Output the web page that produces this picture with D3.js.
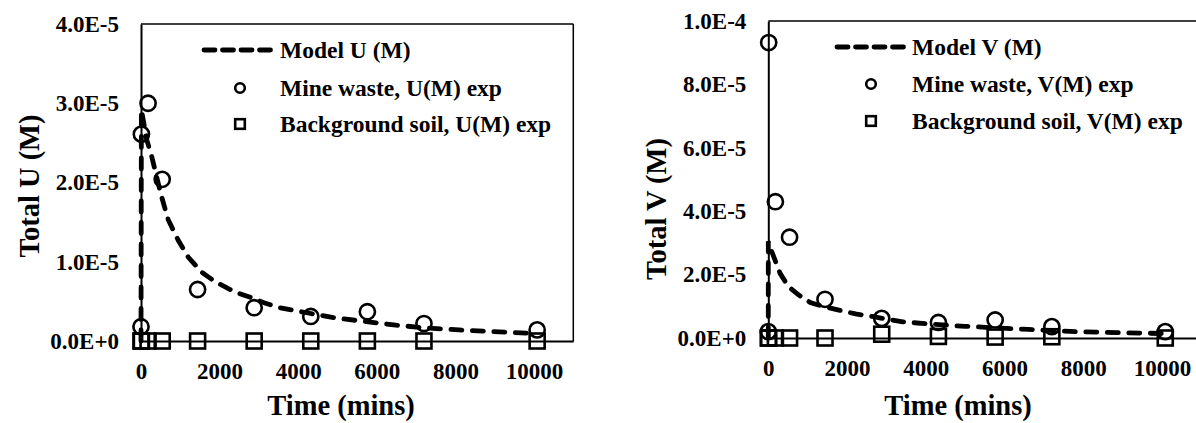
<!DOCTYPE html>
<html>
<head>
<meta charset="utf-8">
<script src="https://cdn.jsdelivr.net/npm/d3@7"></script>
<style>
	body { margin: 0; background: #fff; }
	svg { display: block; font-family: "Liberation Serif", "Times New Roman", serif; font-weight: bold; }
</style>
</head>
<body>
<svg id="chart" width="1196" height="423"></svg>
<script>
'use strict'

// sample times (mins) of the experiments
var sampleTimes = [0, 10, 180, 540, 1440, 2880, 4320, 5760, 7200, 10080];

var mineU = [0.18e-5, 2.61e-5, 3.0e-5, 2.04e-5, 0.65e-5, 0.42e-5, 0.31e-5, 0.37e-5, 0.22e-5, 0.14e-5];
var soilU = [0, 0, 0, 0, 0, 0, 0, 0, 0, 0];

var mineV = [0.2e-5, 9.32e-5, 4.3e-5, 3.18e-5, 1.22e-5, 0.62e-5, 0.49e-5, 0.57e-5, 0.36e-5, 0.2e-5];
var soilV = [0, 0, 0, 0, 0, 0.12e-5, 0.05e-5, 0.03e-5, 0.04e-5, 0];

// model curves
var modelUTime = [0, 10, 145, 272, 398, 525, 693, 947, 1200, 1541, 1878, 2386, 2843, 3147, 3528, 4289, 4967, 5728, 6490, 7251, 8096, 8942, 9957];
var modelU = [0, 2.92e-5, 2.54e-5, 2.33e-5, 2.07e-5, 1.82e-5, 1.53e-5, 1.27e-5, 1.06e-5, 0.87e-5, 0.75e-5, 0.62e-5, 0.54e-5, 0.48e-5, 0.42e-5, 0.35e-5, 0.29e-5, 0.245e-5, 0.2e-5, 0.165e-5, 0.14e-5, 0.118e-5, 0.097e-5];

var modelVTime = [0, 0, 40, 171, 299, 512, 767, 1066, 1246, 1450, 1790, 2217, 2645, 2857, 3412, 4220, 4987, 5926, 6609, 7801, 8824, 9678, 10080];
var modelV = [0, 3.05e-5, 2.88e-5, 2.46e-5, 2.04e-5, 1.62e-5, 1.36e-5, 1.12e-5, 1.05e-5, 0.98e-5, 0.88e-5, 0.76e-5, 0.68e-5, 0.63e-5, 0.51e-5, 0.43e-5, 0.37e-5, 0.31e-5, 0.27e-5, 0.2e-5, 0.17e-5, 0.15e-5, 0.14e-5];

var xTicks = [0, 2000, 4000, 6000, 8000, 10000];
var uTicks = [0, 1e-5, 2e-5, 3e-5, 4e-5];
var vTicks = [0, 2e-5, 4e-5, 6e-5, 8e-5, 1e-4];

var panels = [
	{
		left: 141, right: 573.3, top: 24, bottom: 341, yMax: 4e-5, yTicks: uTicks,
		model: modelU, modelTime: modelUTime, mine: mineU, soil: soilU,
		yTitle: 'Total U (M)', yTitleX: 39, yTitleY: 186, xTitleX: 341,
		legend: { lineX: 202, lineX2: 275, markX: 240, textX: 280, y: [50, 88, 124] },
		labels: ['Model U (M)', 'Mine waste, U(M) exp', 'Background soil, U(M) exp']
	},
	{
		left: 768.3, right: 1201.5, top: 21, bottom: 338, yMax: 1e-4, yTicks: vTicks,
		model: modelV, modelTime: modelVTime, mine: mineV, soil: soilV,
		yTitle: 'Total V (M)', yTitleX: 666, yTitleY: 209, xTitleX: 958,
		legend: { lineX: 835, lineX2: 907, markX: 871, textX: 912, y: [47, 84, 121] },
		labels: ['Model V (M)', 'Mine waste, V(M) exp', 'Background soil, V(M) exp']
	}
];

var svg = d3.select('#chart');
var fmt = function(d) { return d3.format('.1e')(d).toUpperCase(); };

panels.forEach(function(p) {
	var x = d3.scaleLinear().domain([0, 11000]).range([p.left, p.right]);
	var y = d3.scaleLinear().domain([0, p.yMax]).range([p.bottom, p.top]);
	var g = svg.append('g');

	// frame
	g.append('line')
		.attr('x1', p.left).attr('x2', p.right)
		.attr('y1', p.top).attr('y2', p.top)
		.attr('stroke', '#000').attr('stroke-width', 1.5);
	g.append('line')
		.attr('x1', p.right).attr('x2', p.right)
		.attr('y1', p.top).attr('y2', p.bottom)
		.attr('stroke', '#000').attr('stroke-width', 1.5);

	var xAxis = g.append('g')
		.attr('transform', 'translate(0,' + p.bottom + ')')
		.call(d3.axisBottom(x).tickValues(xTicks).tickSize(0).tickPadding(22).tickFormat(d3.format('d')));
	var yAxis = g.append('g')
		.attr('transform', 'translate(' + p.left + ',0)')
		.call(d3.axisLeft(y).tickValues(p.yTicks).tickSize(0).tickPadding(22).tickFormat(fmt));

	[xAxis, yAxis].forEach(function(a) {
		a.attr('font-family', null).attr('font-size', null);
		a.select('.domain').attr('stroke', '#000').attr('stroke-width', 2);
		a.selectAll('text')
			.attr('fill', '#000')
			.style('font-size', '23px');
	});

	// model line
	var pts = p.modelTime.map(function(t, i) { return [t, p.model[i]]; });
	g.append('path')
		.attr('d', d3.line().x(function(d) { return x(d[0]); }).y(function(d) { return y(d[1]); })(pts))
		.attr('fill', 'none')
		.attr('stroke', '#000')
		.attr('stroke-width', 4.8)
		.attr('stroke-linecap', 'round')
		.attr('stroke-dasharray', '11,10.5');

	// background soil squares
	g.selectAll('rect.soil').data(sampleTimes).enter().append('rect')
		.attr('x', function(d) { return x(d) - 7.5; })
		.attr('y', function(d, i) { return y(p.soil[i]) - 7.5; })
		.attr('width', 15).attr('height', 15)
		.attr('fill', 'none').attr('stroke', '#000').attr('stroke-width', 2.6);

	// mine waste circles
	g.selectAll('circle.mine').data(sampleTimes).enter().append('circle')
		.attr('cx', function(d) { return x(d); })
		.attr('cy', function(d, i) { return y(p.mine[i]); })
		.attr('r', 7.6)
		.attr('fill', 'none').attr('stroke', '#000').attr('stroke-width', 2.6);

	// legend
	var L = p.legend;
	g.append('line')
		.attr('x1', L.lineX + 2).attr('x2', L.lineX2 - 2)
		.attr('y1', L.y[0]).attr('y2', L.y[0])
		.attr('stroke', '#000').attr('stroke-width', 4.8)
		.attr('stroke-linecap', 'round').attr('stroke-dasharray', '11,7.5');
	g.append('circle')
		.attr('cx', L.markX).attr('cy', L.y[1]).attr('r', 4.8)
		.attr('fill', 'none').attr('stroke', '#000').attr('stroke-width', 2.6);
	g.append('rect')
		.attr('x', L.markX - 4.8).attr('y', L.y[2] - 4.8).attr('width', 9.6).attr('height', 9.6)
		.attr('fill', 'none').attr('stroke', '#000').attr('stroke-width', 2.6);
	p.labels.forEach(function(t, i) {
		g.append('text')
			.attr('x', L.textX).attr('y', L.y[i])
			.attr('dy', '0.33em')
			.style('font-size', '23.5px')
			.text(t);
	});

	// axis titles
	g.append('text')
		.attr('x', p.xTitleX).attr('y', 415)
		.attr('text-anchor', 'middle')
		.style('font-size', '28.5px')
		.text('Time (mins)');
	g.append('text')
		.attr('transform', 'translate(' + p.yTitleX + ',' + p.yTitleY + ') rotate(-90)')
		.attr('text-anchor', 'middle')
		.style('font-size', '28.5px')
		.text(p.yTitle);
});
</script>
</body>
</html>
